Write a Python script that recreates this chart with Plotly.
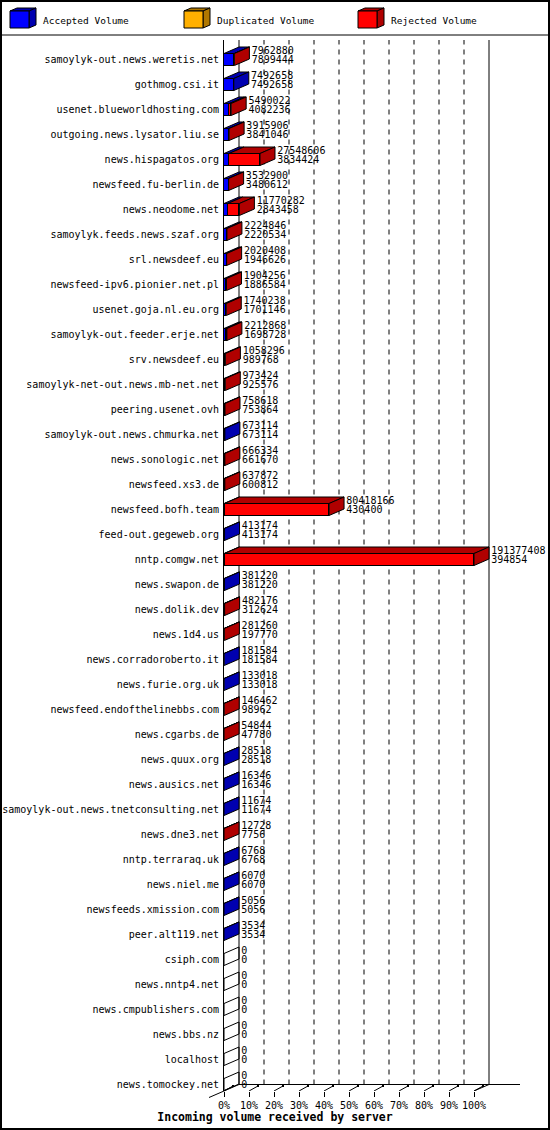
import numpy as np
import plotly.graph_objects as go

# ---------------- data ----------------
hosts = [
    "samoylyk-out.news.weretis.net", "gothmog.csi.it", "usenet.blueworldhosting.com",
    "outgoing.news.lysator.liu.se", "news.hispagatos.org", "newsfeed.fu-berlin.de",
    "news.neodome.net", "samoylyk.feeds.news.szaf.org", "srl.newsdeef.eu",
    "newsfeed-ipv6.pionier.net.pl", "usenet.goja.nl.eu.org", "samoylyk-out.feeder.erje.net",
    "srv.newsdeef.eu", "samoylyk-net-out.news.mb-net.net", "peering.usenet.ovh",
    "samoylyk-out.news.chmurka.net", "news.sonologic.net", "newsfeed.xs3.de",
    "newsfeed.bofh.team", "feed-out.gegeweb.org", "nntp.comgw.net", "news.swapon.de",
    "news.dolik.dev", "news.1d4.us", "news.corradoroberto.it", "news.furie.org.uk",
    "newsfeed.endofthelinebbs.com", "news.cgarbs.de", "news.quux.org", "news.ausics.net",
    "samoylyk-out.news.tnetconsulting.net", "news.dne3.net", "nntp.terraraq.uk",
    "news.niel.me", "newsfeeds.xmission.com", "peer.alt119.net", "csiph.com",
    "news.nntp4.net", "news.cmpublishers.com", "news.bbs.nz", "localhost",
    "news.tomockey.net",
]
total_volume = [
    7962880, 7492658, 5490022, 3915906, 27548606, 3532900, 11770282, 2224846, 2020408,
    1904256, 1740238, 2212868, 1058296, 973424, 758618, 673114, 666334, 637872,
    80418166, 413174, 191377408, 381220, 482176, 281260, 181584, 133018, 146462, 54844,
    28518, 16346, 11674, 12728, 6768, 6070, 5056, 3534, 0, 0, 0, 0, 0, 0,
]
accepted_volume = [
    7899444, 7492658, 4082236, 3841046, 3834424, 3480612, 2843458, 2220534, 1946626,
    1886584, 1701146, 1698728, 989768, 925576, 753864, 673114, 661670, 600812,
    430400, 413174, 394854, 381220, 312624, 197770, 181584, 133018, 98962, 47780,
    28518, 16346, 11674, 7756, 6768, 6070, 5056, 3534, 0, 0, 0, 0, 0, 0,
]
duplicated_volume = [
    0, 0, 0, 0, 0, 0, 0, 0, 0, 0, 0, 0, 0, 0, 0, 0, 0, 0, 0, 0, 0,
    0, 0, 0, 0, 0, 0, 0, 0, 0, 0, 0, 0, 0, 0, 0, 0, 0, 0, 0, 0, 0,
]
rejected_volume = [
    63436, 0, 1407786, 74860, 23714182, 52288, 8926824, 4312, 73782,
    17672, 39092, 514140, 68528, 47848, 4754, 0, 4664, 37060,
    79987766, 0, 190982554, 0, 169552, 83490, 0, 0, 47500, 7064,
    0, 0, 0, 4972, 0, 0, 0, 0, 0, 0, 0, 0, 0, 0,
]
series_names = ["Accepted Volume", "Duplicated Volume", "Rejected Volume"]
tick_values = [0, 10, 20, 30, 40, 50, 60, 70, 80, 90, 100]
tick_labels = ["0%", "10%", "20%", "30%", "40%", "50%", "60%", "70%", "80%", "90%", "100%"]
x_title = "Incoming volume received by server"

# ---------------- style ----------------
MONO = "DejaVu Sans Mono"
FRONT = ["#0000FF", "#FFB000", "#FF0000"]
DARK = ["#0000B0", "#B07800", "#B00000"]

W, H = 550, 1130
L, R, T, B = 224, 10, 40, 39
PW, PH = W - L - R, H - T - B
PX_PER_PCT = 2.5
PX_PER_CAT = 25.0
X_MAX = PW / PX_PER_PCT
Y_TOP = -0.78
Y_BOT = Y_TOP + PH / PX_PER_CAT
DX = 15 / PX_PER_PCT          # depth in x units
DY = 6.5 / PX_PER_CAT         # depth in category units
BAR_H = 12 / PX_PER_CAT

def px(x):
    return (x - L) / PW

def py(y):
    return 1 - (y - T) / PH

# ---------------- derived ----------------
n = len(hosts)
idx = np.arange(n)
scale_max = max(total_volume)
segments = [np.array(s, dtype=float) / scale_max * 100
            for s in (accepted_volume, duplicated_volume, rejected_volume)]
cum = np.cumsum(np.vstack(segments), axis=0)
starts = np.vstack([np.zeros(n), cum[:-1]])
ends = cum
pct_total = cum[-1]

fig = go.Figure()

# front faces
for k in range(3):
    fig.add_trace(go.Bar(
        y=idx, x=segments[k], orientation="h", width=BAR_H,
        marker=dict(color=FRONT[k], line=dict(color="black", width=1)),
        name=series_names[k], showlegend=False, hoverinfo="skip",
    ))

# top faces per segment
for k in range(3):
    xs, ys = [], []
    for i in range(n):
        if segments[k][i] <= 0:
            continue
        x0, x1 = starts[k][i], ends[k][i]
        yt = i - BAR_H / 2
        xs += [x0, x1, x1 + DX, x0 + DX, x0, None]
        ys += [yt, yt, yt - DY, yt - DY, yt, None]
    if xs:
        fig.add_trace(go.Scatter(x=xs, y=ys, mode="lines", fill="toself",
                                 fillcolor=DARK[k], line=dict(color="black", width=1),
                                 showlegend=False, hoverinfo="skip"))

# side faces (colour of the last non-empty segment)
side_groups = {0: ([], []), 1: ([], []), 2: ([], []), -1: ([], [])}
for i in range(n):
    last = -1
    for k in range(3):
        if segments[k][i] > 0:
            last = k
    xe = pct_total[i]
    yt, yb = i - BAR_H / 2, i + BAR_H / 2
    gx, gy = side_groups[last]
    gx += [xe, xe + DX, xe + DX, xe, xe, None]
    gy += [yt, yt - DY, yb - DY, yb, yt, None]
for k, (gx, gy) in side_groups.items():
    if not gx:
        continue
    fig.add_trace(go.Scatter(x=gx, y=gy, mode="lines", fill="toself",
                             fillcolor=DARK[k] if k >= 0 else "rgba(0,0,0,0)",
                             line=dict(color="black", width=1),
                             showlegend=False, hoverinfo="skip"))

# value labels
fig.add_trace(go.Scatter(x=pct_total + DX + 0.9, y=idx - 0.34, mode="text",
                         text=[str(v) for v in total_volume], textposition="middle right",
                         textfont=dict(family=MONO, size=10, color="black"),
                         cliponaxis=False, showlegend=False, hoverinfo="skip"))
fig.add_trace(go.Scatter(x=pct_total + DX + 0.9, y=idx + 0.05, mode="text",
                         text=[str(v) for v in accepted_volume], textposition="middle right",
                         textfont=dict(family=MONO, size=10, color="black"),
                         cliponaxis=False, showlegend=False, hoverinfo="skip"))

shapes = []
back_floor = Y_BOT - DY
# dashed back-wall grid
for t in tick_values[1:-1]:
    shapes.append(dict(type="line", xref="x", yref="y", x0=t + DX, x1=t + DX,
                       y0=back_floor, y1=Y_TOP, layer="below",
                       line=dict(color="black", width=1, dash="5px,5px")))
# back wall solid verticals
for xv in (DX, 100 + DX):
    shapes.append(dict(type="line", xref="x", yref="y", x0=xv, x1=xv,
                       y0=back_floor, y1=Y_TOP, layer="below",
                       line=dict(color="black", width=1)))
# back floor line
shapes.append(dict(type="line", xref="x", yref="y", x0=DX, x1=(520 - L) / PX_PER_PCT,
                   y0=back_floor, y1=back_floor, line=dict(color="black", width=1)))
# right floor diagonal
shapes.append(dict(type="line", xref="x", yref="y", x0=100, x1=100 + DX,
                   y0=Y_BOT, y1=back_floor, line=dict(color="black", width=1)))
# left floor diagonal (extends outside)
shapes.append(dict(type="line", xref="paper", yref="paper", x0=px(209), x1=px(239),
                   y0=py(1097.5), y1=py(1084.5), line=dict(color="black", width=1)))
# 3D tick marks on floor
for t in tick_values:
    shapes.append(dict(type="line", xref="x", yref="y", x0=t, x1=t + 9 / PX_PER_PCT,
                       y0=Y_BOT, y1=Y_BOT - 5 / PX_PER_CAT,
                       line=dict(color="black", width=1)))
    shapes.append(dict(type="rect", xref="x", yref="y",
                       x0=t + 8 / PX_PER_PCT, x1=t + 10 / PX_PER_PCT,
                       y0=Y_BOT - 6 / PX_PER_CAT, y1=Y_BOT - 4 / PX_PER_CAT,
                       fillcolor="black", line=dict(width=0)))

# frame and legend separator
shapes.append(dict(type="rect", xref="paper", yref="paper", x0=px(1), x1=px(549),
                   y0=py(1), y1=py(1129), line=dict(color="black", width=2)))
shapes.append(dict(type="line", xref="paper", yref="paper", x0=px(0), x1=px(550),
                   y0=py(35), y1=py(35), line=dict(color="black", width=1)))

# legend cubes
annotations = []
for k in range(3):
    x0 = 10 + 174 * k
    fx0, fx1, fy0, fy1 = x0, x0 + 19, 11, 28
    ddx, ddy = 7, 3
    def P(pts):
        return "M " + " L ".join(f"{px(a)},{py(b)}" for a, b in pts) + " Z"
    shapes.append(dict(type="path", xref="paper", yref="paper",
                       path=P([(fx0, fy0), (fx1, fy0), (fx1 + ddx, fy0 - ddy), (fx0 + ddx, fy0 - ddy)]),
                       fillcolor=DARK[k], line=dict(color="black", width=1)))
    shapes.append(dict(type="path", xref="paper", yref="paper",
                       path=P([(fx1, fy0), (fx1 + ddx, fy0 - ddy), (fx1 + ddx, fy1 - ddy), (fx1, fy1)]),
                       fillcolor=DARK[k], line=dict(color="black", width=1)))
    shapes.append(dict(type="rect", xref="paper", yref="paper",
                       x0=px(fx0), x1=px(fx1), y0=py(fy0), y1=py(fy1),
                       fillcolor=FRONT[k], line=dict(color="black", width=1)))
    annotations.append(dict(xref="paper", yref="paper", x=px(x0 + 31), y=py(20),
                            text=series_names[k], showarrow=False,
                            xanchor="left", yanchor="middle",
                            font=dict(family=MONO, size=9.5, color="black")))

fig.update_layout(
    width=W, height=H,
    margin=dict(l=L, r=R, t=T, b=B, pad=0, autoexpand=False),
    paper_bgcolor="white", plot_bgcolor="white",
    barmode="stack", bargap=0,
    showlegend=False,
    shapes=shapes, annotations=annotations,
    title=dict(text=x_title, xref="container", yref="container", x=0.5,
               y=1 - 1117 / H, xanchor="center", yanchor="middle", automargin=False,
               font=dict(family=MONO, size=11.5, color="black", weight="bold")),
    xaxis=dict(range=[0, X_MAX], tickvals=tick_values, ticktext=tick_labels,
               ticks="outside", ticklen=5, tickcolor="black", tickwidth=1,
               showgrid=False, zeroline=False, showline=False, automargin=False,
               tickfont=dict(family=MONO, size=10, color="black")),
    yaxis=dict(range=[Y_BOT, Y_TOP], tickvals=idx, ticktext=hosts,
               ticks="", showgrid=False, zeroline=False, automargin=False,
               showline=True, linecolor="black", linewidth=1,
               ticklabelstandoff=2,
               tickfont=dict(family=MONO, size=10, color="black")),
)

fig.write_html("out.html", config={"displayModeBar": False},
               post_script="document.body.style.margin='0';document.body.style.padding='0';")
